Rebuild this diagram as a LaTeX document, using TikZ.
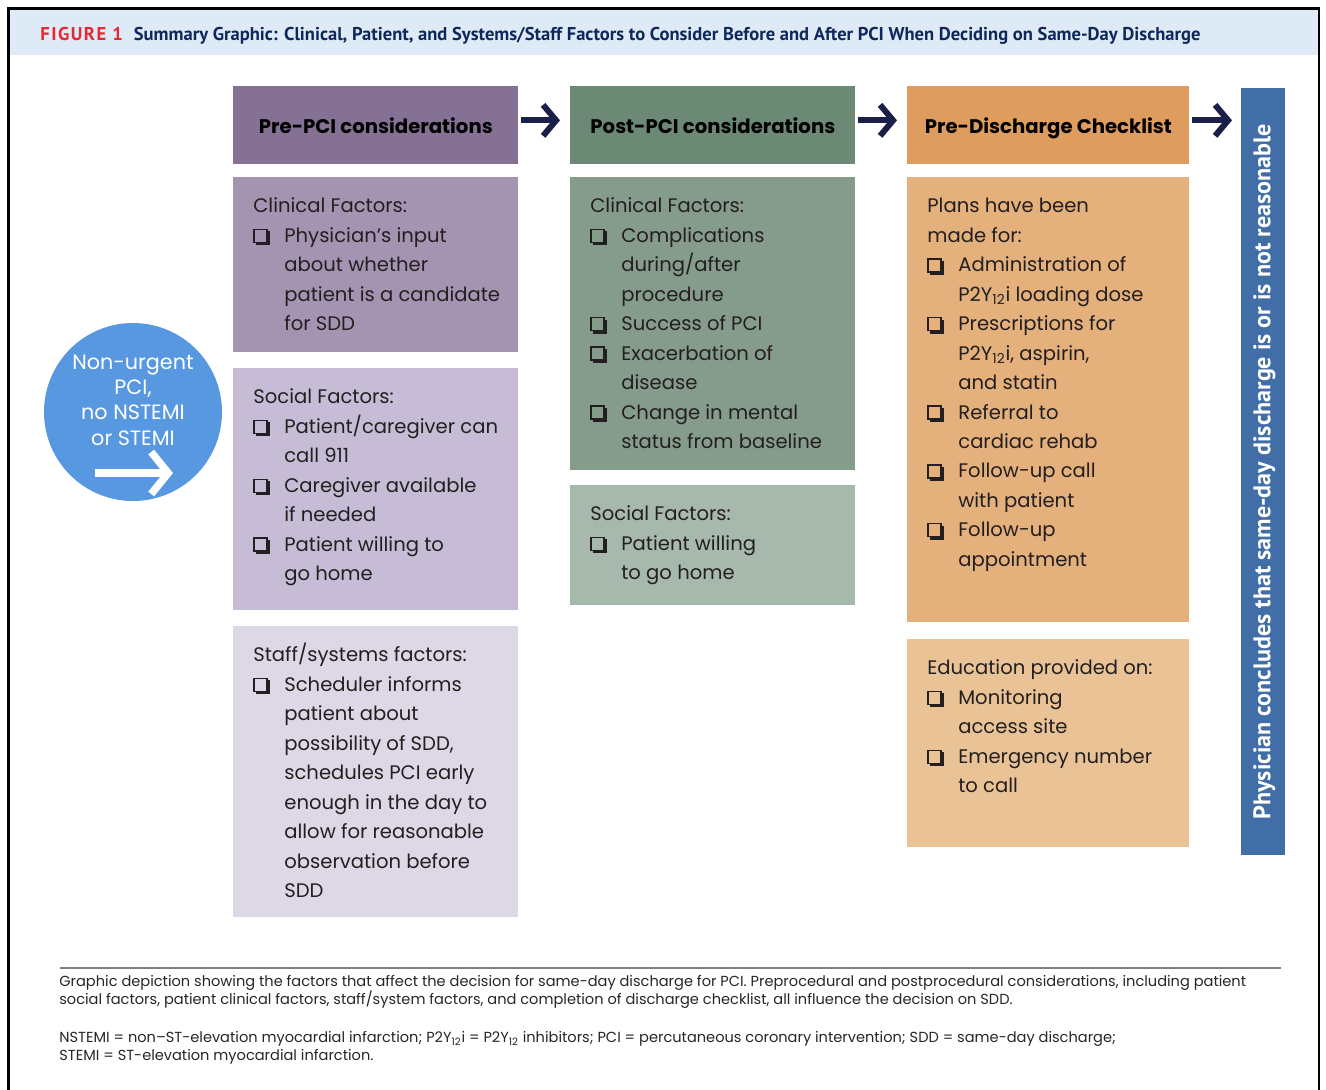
\documentclass[tikz,border=0pt]{standalone}
\usepackage{fontspec}
\setmainfont{Poppins}
\newfontfamily\headfont{PT Sans}
\usepackage{xcolor}
\usetikzlibrary{arrows.meta,positioning}
\definecolor{prehead}{RGB}{132,113,148}
\definecolor{preclin}{RGB}{164,148,178}
\definecolor{presoc}{RGB}{199,188,213}
\definecolor{prestaff}{RGB}{221,216,230}
\definecolor{posthead}{RGB}{108,137,118}
\definecolor{postclin}{RGB}{133,155,140}
\definecolor{postsoc}{RGB}{167,185,172}
\definecolor{chkhead}{RGB}{222,156,95}
\definecolor{chkplan}{RGB}{228,176,124}
\definecolor{chkedu}{RGB}{233,195,150}
\definecolor{barblue}{RGB}{66,110,168}
\definecolor{circblue}{RGB}{88,152,225}
\definecolor{navy}{RGB}{24,32,72}
\definecolor{bandblue}{RGB}{222,234,246}
\definecolor{figred}{RGB}{230,40,50}
\definecolor{titlenavy}{RGB}{14,40,90}
\definecolor{inktext}{RGB}{35,31,32}
% shadowed check box
\newcommand{\chk}{\tikz[baseline=0pt, line width=0.03cm]{
    \draw[inktext] (0,0) rectangle (0.26,0.26);
    \fill[inktext] (0.04,-0.06) rectangle (0.32,0);
    \fill[inktext] (0.26,-0.06) rectangle (0.32,0.22);}}
% list lines: heading row, item row
\newcommand{\hd}[1]{\multicolumn{2}{@{}l@{}}{#1}}
\newenvironment{checks}{\begin{tabular}{@{}p{0.62cm}@{}l@{}}}{\end{tabular}}
\newcommand{\ptwo}{P2Y\textsubscript{12}i}

\begin{document}
\begin{tikzpicture}[
    box/.style={anchor=north west, inner sep=0, minimum width=5.70cm},
    head/.style={anchor=north west, inner sep=0, minimum width=5.70cm, minimum height=1.56cm,
                 text height=9.2pt, text depth=0pt, font=\bfseries\fontsize{11.2}{13}\selectfont},
    txt/.style={anchor=north west, inner sep=0, align=left, text=inktext,
                font=\fontsize{11.15}{16.75}\selectfont},
    arrow/.style={-{Straight Barb[length=0.26cm,width=0.62cm]}, line width=0.12cm, draw=navy}
]
    \useasboundingbox (0,0) rectangle (26.52,-21.78);

    % Frame and title band
    \node[anchor=north west, inner sep=0, fill=bandblue, minimum width=26.16cm, minimum height=0.9cm] (band) at (0.2,-0.2) {};
    \draw[line width=0.05cm] (0.17,-21.9) |- (26.38,-0.17) -- (26.38,-21.9);
    \node[anchor=west, inner sep=0, font=\headfont\bfseries\fontsize{10.55}{13}\selectfont] (title) at (0.8,-0.71)
        {{\color{figred}\addfontfeatures{LetterSpace=8}FIGURE 1}\hspace{0.22cm}{\color{titlenavy}Summary Graphic: Clinical, Patient, and Systems/Staff Factors to Consider Before and After PCI When Deciding on Same-Day Discharge}};

    % Start circle
    \node[circle, fill=circblue, minimum size=3.56cm, inner sep=0] (start) at (2.66,-8.24) {};
    \node[align=center, text=white, inner sep=0, font=\fontsize{11.8}{14.4}\selectfont] (starttxt) at (2.66,-8.0)
        {Non-urgent\\PCI,\\no NSTEMI\\or STEMI};
    \coordinate (wa) at (1.90,-9.46);
    \coordinate (wb) at (3.46,-9.46);
    \draw[-{Straight Barb[length=0.34cm,width=0.84cm]}, line width=0.15cm, white] (wa) -- (wb);

    % Pre-PCI column
    \node[head, fill=prehead] (pre) at (4.66,-1.72) {Pre-PCI considerations};
    \node[box, fill=preclin, minimum height=3.50cm] (preclin) at (4.66,-3.54) {};
    \node[box, fill=presoc, minimum height=4.84cm] (presoc) at (4.66,-7.36) {};
    \node[box, fill=prestaff, minimum height=5.82cm] (prestaff) at (4.66,-12.52) {};
    \node[txt] (preclintxt) at ([shift={(0.4,-0.3)}]preclin.north west)
        {\begin{checks}
         \hd{Clinical Factors:}\\
         \chk & Physician's input\\
              & about whether\\
              & patient is a candidate\\
              & for SDD
         \end{checks}};
    \node[txt] (presoctxt) at ([shift={(0.4,-0.3)}]presoc.north west)
        {\begin{checks}
         \hd{Social Factors:}\\
         \chk & Patient/caregiver can\\
              & call 911\\
         \chk & Caregiver available\\
              & if needed\\
         \chk & Patient willing to\\
              & go home
         \end{checks}};
    \node[txt] (prestafftxt) at ([shift={(0.4,-0.3)}]prestaff.north west)
        {\begin{checks}
         \hd{Staff/systems factors:}\\
         \chk & Scheduler informs\\
              & patient about\\
              & possibility of SDD,\\
              & schedules PCI early\\
              & enough in the day to\\
              & allow for reasonable\\
              & observation before\\
              & SDD
         \end{checks}};

    % Post-PCI column
    \node[head, fill=posthead] (post) at (11.40,-1.72) {Post-PCI considerations};
    \node[box, fill=postclin, minimum height=5.86cm] (postclin) at (11.40,-3.54) {};
    \node[box, fill=postsoc, minimum height=2.40cm] (postsoc) at (11.40,-9.70) {};
    \node[txt] (postclintxt) at ([shift={(0.4,-0.3)}]postclin.north west)
        {\begin{checks}
         \hd{Clinical Factors:}\\
         \chk & Complications\\
              & during/after\\
              & procedure\\
         \chk & Success of PCI\\
         \chk & Exacerbation of\\
              & disease\\
         \chk & Change in mental\\
              & status from baseline
         \end{checks}};
    \node[txt] (postsoctxt) at ([shift={(0.4,-0.3)}]postsoc.north west)
        {\begin{checks}
         \hd{Social Factors:}\\
         \chk & Patient willing\\
              & to go home
         \end{checks}};

    % Pre-discharge checklist
    \node[head, fill=chkhead, minimum width=5.64cm] (chk) at (18.14,-1.72) {Pre-Discharge Checklist};
    \node[box, fill=chkplan, minimum width=5.64cm, minimum height=8.90cm] (chkplan) at (18.14,-3.54) {};
    \node[box, fill=chkedu, minimum width=5.64cm, minimum height=4.16cm] (chkedu) at (18.14,-12.78) {};
    \node[txt] (chkplantxt) at ([shift={(0.4,-0.3)}]chkplan.north west)
        {\begin{checks}
         \hd{Plans have been}\\
         \hd{made for:}\\
         \chk & Administration of\\
              & \ptwo{} loading dose\\
         \chk & Prescriptions for\\
              & \ptwo, aspirin,\\
              & and statin\\
         \chk & Referral to\\
              & cardiac rehab\\
         \chk & Follow-up call\\
              & with patient\\
         \chk & Follow-up\\
              & appointment
         \end{checks}};
    \node[txt] (chkedutxt) at ([shift={(0.4,-0.3)}]chkedu.north west)
        {\begin{checks}
         \hd{Education provided on:}\\
         \chk & Monitoring\\
              & access site\\
         \chk & Emergency number\\
              & to call
         \end{checks}};

    % Conclusion bar
    \node[box, fill=barblue, minimum width=0.88cm, minimum height=15.34cm] (concl) at (24.82,-1.76) {};
    \node[rotate=90, text=white, inner sep=0, font=\headfont\bfseries\fontsize{13.7}{15}\selectfont] (concltxt) at ([xshift=0.02cm]concl.center)
        {Physician concludes that same-day discharge is or is not reasonable};

    % Arrows
    \draw[arrow, shorten <=0.04cm, shorten >=0.2cm] ([yshift=0.1cm]pre.east) -- ([yshift=0.1cm]post.west);
    \draw[arrow, shorten <=0.04cm, shorten >=0.2cm] ([yshift=0.1cm]post.east) -- ([yshift=0.1cm]chk.west);
    \draw[arrow, shorten <=0.04cm, shorten >=0.18cm] ([yshift=0.1cm]chk.east) -- ([yshift=0.1cm]chk.east -| concl.west);

    % Caption
    \draw[gray, line width=0.03cm] (1.2,-19.36) -- (25.62,-19.36);
    \node[txt, text=black!85, font=\fontsize{8.3}{10.2}\selectfont] (capt) at (1.18,-19.50)
        {Graphic depiction showing the factors that affect the decision for same-day discharge for PCI. Preprocedural and postprocedural considerations, including patient\\
         social factors, patient clinical factors, staff/system factors, and completion of discharge checklist, all influence the decision on SDD.};
    \node[txt, text=black!85, font=\fontsize{8.3}{10.2}\selectfont] (abbr) at (1.18,-20.62)
        {NSTEMI = non--ST-elevation myocardial infarction; \ptwo{} = P2Y\textsubscript{12} inhibitors; PCI = percutaneous coronary intervention; SDD = same-day discharge;\\
         STEMI = ST-elevation myocardial infarction.};
\end{tikzpicture}
\end{document}
